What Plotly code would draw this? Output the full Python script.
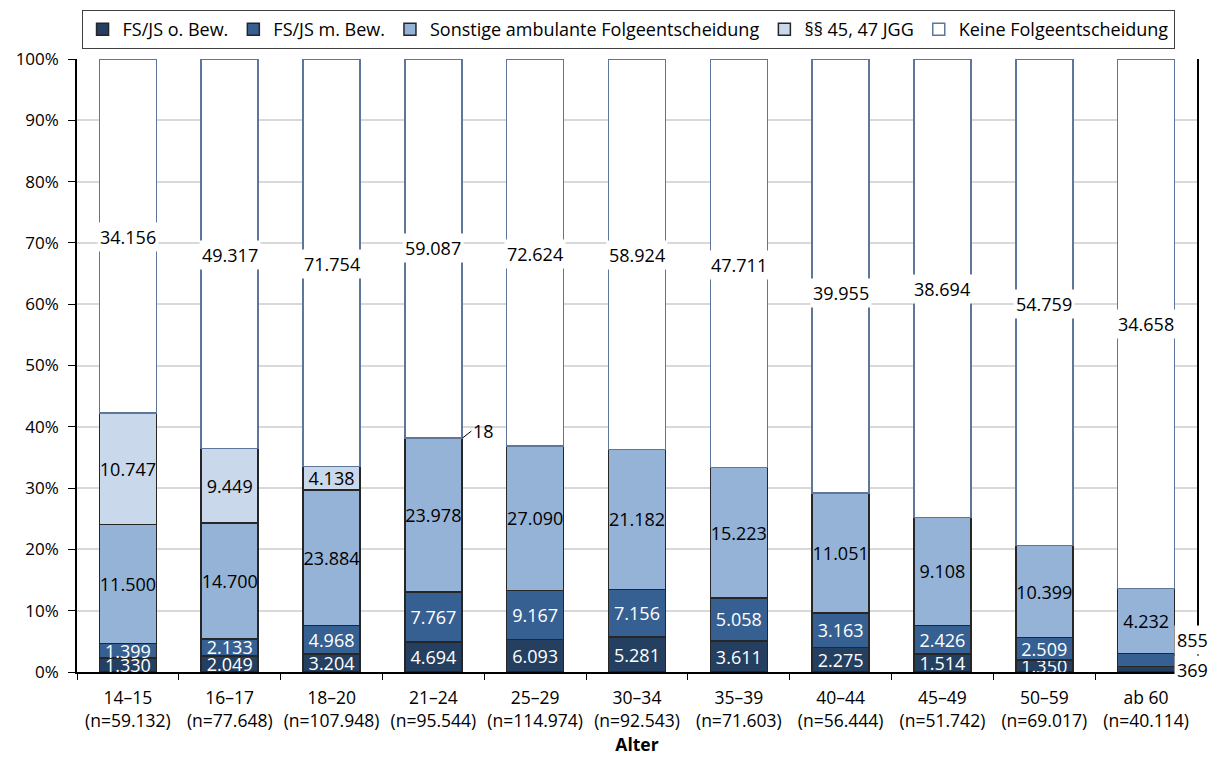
import plotly.graph_objects as go

ages = ["14–15", "16–17", "18–20", "21–24", "25–29", "30–34", "35–39", "40–44", "45–49", "50–59", "ab 60"]
n_total = [59132, 77648, 107948, 95544, 114974, 92543, 71603, 56444, 51742, 69017, 40114]

fs_ohne = [1330, 2049, 3204, 4694, 6093, 5281, 3611, 2275, 1514, 1350, 369]
fs_mit = [1399, 2133, 4968, 7767, 9167, 7156, 5058, 3163, 2426, 2509, 855]
sonstige = [11500, 14700, 23884, 23978, 27090, 21182, 15223, 11051, 9108, 10399, 4232]
jgg = [10747, 9449, 4138, 18, 0, 0, 0, 0, 0, 0, 0]
keine = [34156, 49317, 71754, 59087, 72624, 58924, 47711, 39955, 38694, 54759, 34658]

series_names = ["FS/JS o. Bew.", "FS/JS m. Bew.", "Sonstige ambulante Folgeentscheidung", "§§ 45, 47 JGG", "Keine Folgeentscheidung"]

# label placement (share of bar height) for the "Keine" labels, as in the original
keine_label_pos = [0.710, 0.681, 0.666, 0.691, 0.682, 0.681, 0.664, 0.619, 0.624, 0.601, 0.568]

FONT = "Open Sans"
fill_colors = ["#243F60", "#376092", "#95B3D7", "#CAD8EB", "#FFFFFF"]
edge_colors = ["#262626", "#262626", "#262626", "#262626", "#5E7699"]
text_colors = ["white", "white", "black", "black", "black"]


def fmt(v):
    return f"{v:,}".replace(",", ".")


tick_text = [f"{a}<br>(n={fmt(n)})" for a, n in zip(ages, n_total)]
all_series = [fs_ohne, fs_mit, sonstige, jgg, keine]

# labels that are drawn outside the bars (too small)
outside = {(3, 3), (0, 10), (1, 10)}

fig = go.Figure()
for si, (name, vals) in enumerate(zip(series_names, all_series)):
    texts = []
    for ci, v in enumerate(vals):
        if si == 4 or v == 0 or (si, ci) in outside:
            texts.append("")
        else:
            texts.append(fmt(v))
    fig.add_trace(go.Bar(
        x=ages, y=vals, name=name,
        marker=dict(color=fill_colors[si], line=dict(color=edge_colors[si], width=1.5)),
        text=texts, textposition="inside", insidetextanchor="middle",
        textfont=dict(color=text_colors[si], size=18, family=FONT),
        textangle=0,
    ))

annotations = []
for ci, a in enumerate(ages):
    annotations.append(dict(
        x=a, y=keine_label_pos[ci], xref="x", yref="y", text=fmt(keine[ci]),
        showarrow=False, bgcolor="white", borderpad=2,
        font=dict(size=18, family=FONT, color="black"),
    ))

# small "18" label with leader line (21–24, §§ 45, 47 JGG)
ci = 3
top = (fs_ohne[ci] + fs_mit[ci] + sonstige[ci] + jgg[ci]) / n_total[ci]
annotations.append(dict(
    x=ages[ci], y=top, xref="x", yref="y", text=fmt(jgg[ci]), xshift=29,
    showarrow=True, arrowhead=0, arrowwidth=1, arrowcolor="black", ax=9, ay=-7,
    xanchor="left", font=dict(size=18, family=FONT, color="black"), bgcolor="rgba(0,0,0,0)",
))

# ab 60 small labels on the right
ci = 10
c1 = fs_ohne[ci] / n_total[ci]
c2 = (fs_ohne[ci] + fs_mit[ci]) / n_total[ci]
annotations.append(dict(
    x=ages[ci], y=c2, xref="x", yref="y", text=fmt(fs_mit[ci]), xshift=28, yshift=13,
    showarrow=False, xanchor="left", bgcolor="white", borderpad=2,
    font=dict(size=18, family=FONT, color="black"),
))
annotations.append(dict(
    x=ages[ci], y=c1, xref="x", yref="y", text=fmt(fs_ohne[ci]), xshift=28, yshift=-4,
    showarrow=False, xanchor="left", bgcolor="white", borderpad=2,
    font=dict(size=18, family=FONT, color="black"),
))

# the page body adds an 8px offset; the figure is sized to compensate
fig.update_layout(
    width=1211, height=750,
    barmode="stack", barnorm="fraction", bargap=0.44,
    plot_bgcolor="white", paper_bgcolor="white",
    margin=dict(l=69, r=22, t=51, b=86, autoexpand=False),
    font=dict(family=FONT, size=17, color="black"),
    uniformtext=dict(minsize=18, mode="show"),
    legend=dict(
        orientation="h", x=0.492, xanchor="center", y=1.080, yanchor="top",
        bordercolor="#404040", borderwidth=1, bgcolor="white",
        font=dict(size=18, family=FONT), traceorder="normal",
        itemwidth=30,
    ),
    annotations=annotations,
    showlegend=True,
)
fig.update_xaxes(
    range=[-0.5, len(ages) - 0.5],
    tickvals=ages, ticktext=tick_text, showline=True, linecolor="black", linewidth=1.5,
    ticks="outside", tickson="boundaries", ticklen=6, tickcolor="black", tickangle=0,
    tickfont=dict(size=17.5, family=FONT), automargin=False, ticklabelstandoff=9,
    title=dict(text="<b>Alter</b>", font=dict(size=17.5, family=FONT), standoff=2),
)
fig.update_yaxes(
    range=[0, 1], dtick=0.1, tickformat=".0%", showline=True, linecolor="black", linewidth=1.5,
    mirror=True, ticks="outside", ticklen=7, tickcolor="black", ticklabelstandoff=6,
    showgrid=True, gridcolor="#D9D9D9", gridwidth=1.5, automargin=False,
    tickfont=dict(size=17, family=FONT), zeroline=False,
)

fig.write_html("out.html")
